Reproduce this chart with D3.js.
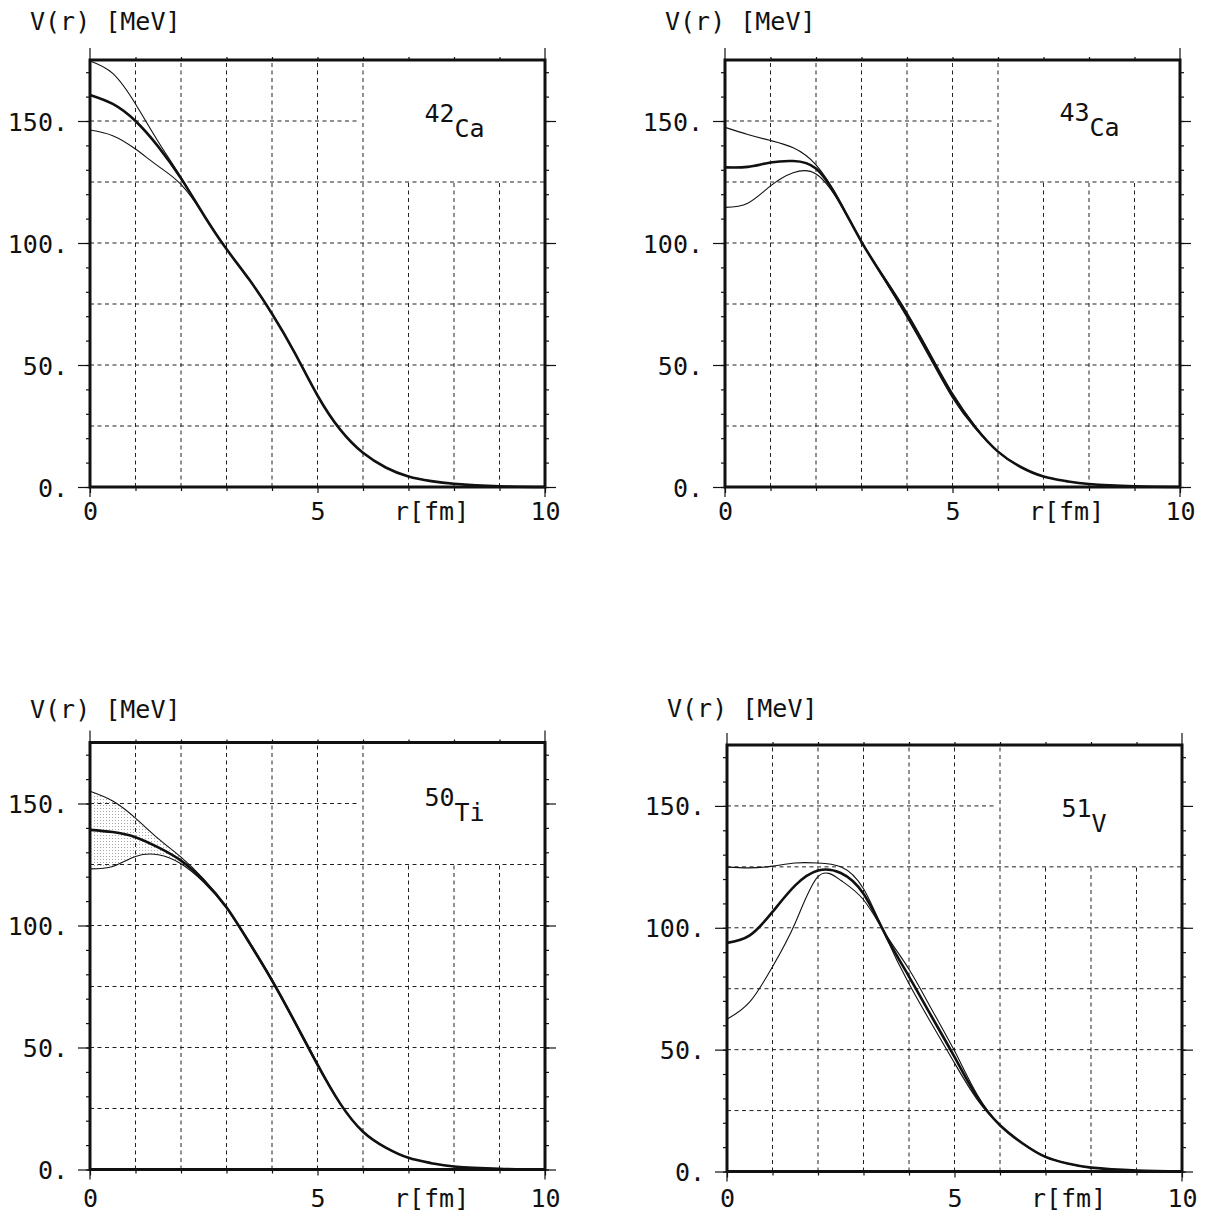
<!DOCTYPE html>
<html>
<head>
<meta charset="utf-8">
<script src="https://cdn.jsdelivr.net/npm/d3@7"></script>
<style>
    body { margin: 0; background: #fff; }
    svg { display: block; }
    text { font-family: "DejaVu Sans Mono", monospace; font-size: 25px; fill: #111; }
</style>
</head>
<body>
<div id="chart"></div>
<script>
// radius grid the potentials were read on (fm)
const radius = [0, 0.5, 1, 1.5, 2, 2.5, 3, 3.5, 4, 4.5, 5, 5.5, 6, 6.5, 7, 7.5, 8, 9, 10];

const ca42Upper  = [174.6, 169.5, 157.0, 141.5, 127.0, 111.5, 97.5, 85.0, 71.0, 55.0, 37.5, 23.5, 14.0, 8.0, 4.3, 2.4, 1.3, 0.3, 0];
const ca42Middle = [160.7, 157.0, 150.0, 139.5, 126.5, 111.5, 97.5, 85.0, 71.0, 55.0, 37.5, 23.5, 14.0, 8.0, 4.3, 2.4, 1.3, 0.3, 0];
const ca42Lower  = [146.3, 144.0, 138.5, 131.5, 124.0, 111.5, 97.5, 85.0, 71.0, 55.0, 37.5, 23.5, 14.0, 8.0, 4.3, 2.4, 1.3, 0.3, 0];

const ca43Upper  = [147.4, 144.5, 142.0, 139.0, 132.0, 118.0, 100.5, 85.0, 69.5, 53.0, 36.5, 24.0, 14.5, 8.2, 4.3, 2.4, 1.2, 0.3, 0];
const ca43Middle = [131.0, 131.2, 133.0, 133.6, 130.5, 117.5, 100.5, 85.5, 70.5, 54.0, 37.5, 24.5, 14.5, 8.2, 4.3, 2.4, 1.2, 0.3, 0];
const ca43Lower  = [114.6, 116.3, 123.4, 128.8, 128.3, 117.0, 100.5, 86.0, 71.5, 55.0, 38.5, 25.0, 14.5, 8.2, 4.3, 2.4, 1.2, 0.3, 0];

const ti50Upper  = [155.0, 151.0, 144.0, 135.6, 128.0, 119.0, 107.5, 93.5, 78.0, 61.0, 43.5, 27.0, 15.5, 9.0, 4.8, 2.6, 1.2, 0.3, 0];
const ti50Middle = [139.2, 138.3, 136.2, 132.0, 126.6, 118.4, 107.5, 93.0, 77.5, 60.5, 43.0, 27.0, 15.5, 9.0, 4.8, 2.6, 1.2, 0.3, 0];
const ti50Lower  = [123.2, 124.2, 128.3, 129.0, 125.3, 117.7, 107.0, 92.5, 77.0, 60.0, 42.5, 27.0, 15.5, 9.0, 4.8, 2.6, 1.2, 0.3, 0];

const v51Upper   = [124.9, 124.6, 125.3, 126.6, 126.6, 125.0, 116.0, 96.0, 77.0, 60.5, 44.5, 29.5, 19.0, 11.5, 6.0, 3.2, 1.6, 0.4, 0];
const v51Middle  = [93.8, 96.9, 106.5, 117.4, 123.5, 122.5, 114.0, 96.5, 80.0, 63.5, 47.0, 30.5, 19.0, 11.5, 6.0, 3.2, 1.6, 0.4, 0];
const v51Lower   = [62.5, 69.6, 84.0, 102.0, 121.0, 119.5, 111.5, 97.0, 83.0, 66.5, 49.5, 31.5, 19.0, 11.5, 6.0, 3.2, 1.6, 0.4, 0];

const yMajorTicks = [0, 50, 100, 150];
const yTickLabels = ["0.", "50.", "100.", "150."];
const yMinorTicks = [0, 10, 20, 30, 40, 50, 60, 70, 80, 90, 100, 110, 120, 130, 140, 150, 160, 170];
const xMajorTicks = [0, 5, 10];
const xMinorTicks = [1, 2, 3, 4, 6, 7, 8, 9];
const gridR = [1, 2, 3, 4, 5, 6, 7, 8, 9];
const gridV = [25, 50, 75, 100, 125, 150];

class PotentialPanel {
    constructor(svg, cfg) {
        this.svg = svg;
        this.cfg = cfg;
        this.initVis();
    }

    initVis() {
        let vis = this;
        let c = vis.cfg;
        vis.x = d3.scaleLinear().domain([0, 10]).range([c.left, c.right]);
        vis.y = d3.scaleLinear().domain([0, 175]).range([c.bottom, c.top]);
        vis.g = vis.svg.append('g');

        vis.drawGrid();
        vis.drawAxes();
        vis.drawCurves();
        vis.drawLabels();
    }

    drawGrid() {
        let vis = this;
        // upper right corner is left free for the nucleus label
        vis.g.selectAll('.vgrid')
            .data(gridR)
            .enter().append('line')
            .attr('x1', d => vis.x(d)).attr('x2', d => vis.x(d))
            .attr('y1', vis.y(0))
            .attr('y2', d => d > 6 ? vis.y(125) : vis.y(175))
            .attr('stroke', '#222').attr('stroke-width', 1)
            .attr('stroke-dasharray', '4,3.5');

        vis.g.selectAll('.hgrid')
            .data(gridV)
            .enter().append('line')
            .attr('x1', vis.x(0))
            .attr('x2', d => d > 125 ? vis.x(5.9) : vis.x(10))
            .attr('y1', d => vis.y(d)).attr('y2', d => vis.y(d))
            .attr('stroke', '#222').attr('stroke-width', 1)
            .attr('stroke-dasharray', '4,3.5');
    }

    drawAxes() {
        let vis = this;
        let c = vis.cfg;
        const clean = g => {
            g.select('.domain').remove();
            g.selectAll('line').attr('stroke', '#111').attr('stroke-width', 1.2);
        };

        // axis lines run a little past the frame
        [0, 10].forEach(r => {
            vis.g.append('line')
                .attr('x1', vis.x(r)).attr('x2', vis.x(r))
                .attr('y1', c.top - 12).attr('y2', c.bottom + 10)
                .attr('stroke', '#111').attr('stroke-width', 1.2);
        });

        vis.g.append('g').attr('transform', `translate(${c.left},0)`)
            .call(d3.axisLeft(vis.y).tickValues(yMinorTicks).tickSize(4).tickFormat(''))
            .call(clean);
        vis.g.append('g').attr('transform', `translate(${c.right},0)`)
            .call(d3.axisRight(vis.y).tickValues(yMinorTicks).tickSize(4).tickFormat(''))
            .call(clean);
        vis.g.append('g').attr('transform', `translate(${c.right},0)`)
            .call(d3.axisRight(vis.y).tickValues(yMajorTicks).tickSize(11).tickFormat(''))
            .call(clean);

        let left = vis.g.append('g').attr('transform', `translate(${c.left},0)`)
            .call(d3.axisLeft(vis.y).tickValues(yMajorTicks).tickSize(12).tickPadding(10)
                .tickFormat((d, i) => yTickLabels[i]))
            .call(clean);
        left.selectAll('text')
            .attr('x', -22).attr('dy', '0.36em')
            .style('font-family', '"DejaVu Sans Mono", monospace').style('font-size', '25px')
            .attr('fill', '#111');

        vis.g.append('g').attr('transform', `translate(0,${c.top})`)
            .call(d3.axisTop(vis.x).tickValues(xMinorTicks.concat([5])).tickSize(3).tickFormat(''))
            .call(clean);
        vis.g.append('g').attr('transform', `translate(0,${c.bottom})`)
            .call(d3.axisBottom(vis.x).tickValues(xMinorTicks).tickSize(4).tickFormat(''))
            .call(clean);

        let bottom = vis.g.append('g').attr('transform', `translate(0,${c.bottom})`)
            .call(d3.axisBottom(vis.x).tickValues(xMajorTicks).tickSize(6).tickFormat(d3.format('d')))
            .call(clean);
        bottom.selectAll('text')
            .attr('y', c.tickLabelY - c.bottom).attr('dy', 0)
            .style('font-family', '"DejaVu Sans Mono", monospace').style('font-size', '25px')
            .attr('fill', '#111');

        // heavy frame
        vis.g.append('rect')
            .attr('x', c.left).attr('y', c.top)
            .attr('width', c.right - c.left).attr('height', c.bottom - c.top)
            .attr('fill', 'none').attr('stroke', '#111').attr('stroke-width', 3);
    }

    drawCurves() {
        let vis = this;
        let c = vis.cfg;
        const line = d3.line()
            .x((d, i) => vis.x(radius[i]))
            .y(d => vis.y(d))
            .curve(d3.curveNatural);

        if (c.shade) {
            const band = radius.map((r, i) => ({r: r, hi: c.upper[i], lo: c.lower[i]}))
                .filter(d => d.r <= 2);
            vis.g.append('path')
                .datum(band)
                .attr('d', d3.area()
                    .x(d => vis.x(d.r))
                    .y0(d => vis.y(d.lo))
                    .y1(d => vis.y(d.hi))
                    .curve(d3.curveNatural))
                .attr('fill', 'url(#stipple)');
        }

        [c.upper, c.lower].forEach(s => {
            vis.g.append('path')
                .datum(s)
                .attr('d', line)
                .attr('fill', 'none')
                .attr('stroke', '#111')
                .attr('stroke-width', 1.1);
        });
        vis.g.append('path')
            .datum(c.middle)
            .attr('d', line)
            .attr('fill', 'none')
            .attr('stroke', '#111')
            .attr('stroke-width', 2.6);
    }

    drawLabels() {
        let vis = this;
        let c = vis.cfg;
        vis.g.append('text')
            .attr('x', c.left - 60)
            .attr('y', c.titleY)
            .text('V(r) [MeV]');

        vis.g.append('text')
            .attr('x', vis.x(6.68))
            .attr('y', c.tickLabelY)
            .text('r[fm]');

        let lbl = vis.g.append('text')
            .attr('x', vis.x(7.35))
            .attr('y', vis.y(c.labelV));
        lbl.append('tspan').text(c.mass);
        lbl.append('tspan').attr('dy', 15).text(c.element);
    }
}

const svg = d3.select('#chart').append('svg')
    .attr('width', 1206)
    .attr('height', 1214);

const pattern = svg.append('defs').append('pattern')
    .attr('id', 'stipple')
    .attr('patternUnits', 'userSpaceOnUse')
    .attr('width', 3).attr('height', 3);
pattern.append('circle')
    .attr('cx', 1.5).attr('cy', 1.5).attr('r', 0.55)
    .attr('fill', '#999');

const panels = [
    {mass: '42', element: 'Ca', upper: ca42Upper, middle: ca42Middle, lower: ca42Lower,
        left: 90, right: 545, top: 60, bottom: 487, titleY: 30, tickLabelY: 520, labelV: 149.5},
    {mass: '43', element: 'Ca', upper: ca43Upper, middle: ca43Middle, lower: ca43Lower,
        left: 725, right: 1180, top: 60, bottom: 487, titleY: 30, tickLabelY: 520, labelV: 150.2},
    {mass: '50', element: 'Ti', upper: ti50Upper, middle: ti50Middle, lower: ti50Lower, shade: true,
        left: 90, right: 545, top: 742.5, bottom: 1169.5, titleY: 718, tickLabelY: 1207, labelV: 149},
    {mass: '51', element: 'V', upper: v51Upper, middle: v51Middle, lower: v51Lower,
        left: 727, right: 1182, top: 745, bottom: 1171.5, titleY: 717, tickLabelY: 1207, labelV: 145.5}
];

panels.forEach(p => new PotentialPanel(svg, p));
</script>
</body>
</html>
